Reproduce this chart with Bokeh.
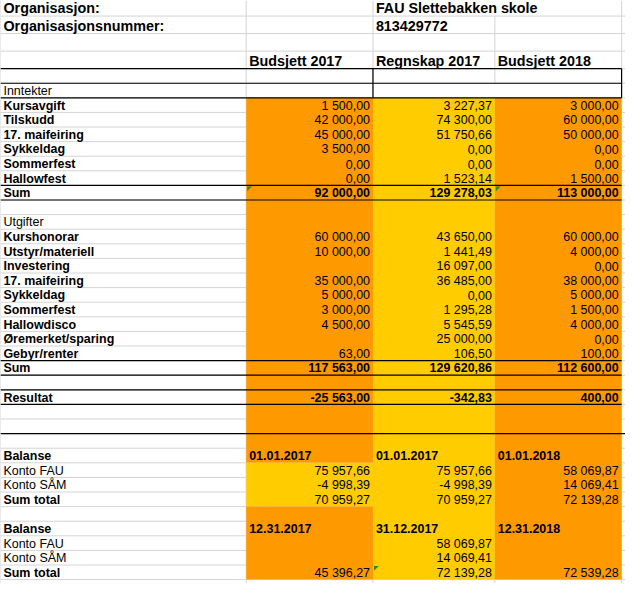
from bokeh.plotting import figure
from bokeh.models import ColumnDataSource, Range1d
from bokeh.core.properties import value
from bokeh.embed import file_html
from bokeh.resources import INLINE

# ---------------- data ----------------
org_label = "Organisasjon:"
orgnr_label = "Organisasjonsnummer:"
org_name = "FAU Slettebakken skole"
org_number = "813429772"
column_headers = ["Budsjett 2017", "Regnskap 2017", "Budsjett 2018"]

income_title = "Inntekter"
income_labels = ["Kursavgift", "Tilskudd", "17. maifeiring", "Sykkeldag", "Sommerfest", "Hallowfest"]
income_budget_2017 = [1500.00, 42000.00, 45000.00, 3500.00, 0.00, 0.00]
income_account_2017 = [3227.37, 74300.00, 51750.66, 0.00, 0.00, 1523.14]
income_budget_2018 = [3000.00, 60000.00, 50000.00, 0.00, 0.00, 1500.00]
income_sums = [92000.00, 129278.03, 113000.00]

expense_title = "Utgifter"
expense_labels = ["Kurshonorar", "Utstyr/materiell", "Investering", "17. maifeiring", "Sykkeldag",
                  "Sommerfest", "Hallowdisco", "Øremerket/sparing", "Gebyr/renter"]
expense_budget_2017 = [60000.00, 10000.00, None, 35000.00, 5000.00, 3000.00, 4500.00, None, 63.00]
expense_account_2017 = [43650.00, 1441.49, 16097.00, 36485.00, 0.00, 1295.28, 5545.59, 25000.00, 106.50]
expense_budget_2018 = [60000.00, 4000.00, 0.00, 38000.00, 5000.00, 1500.00, 4000.00, 0.00, 100.00]
expense_sums = [117563.00, 129620.86, 112600.00]

sum_label = "Sum"
result_label = "Resultat"
results = [-25563.00, -342.83, 400.00]

balance_label = "Balanse"
balance_rows = ["Konto FAU", "Konto SÅM", "Sum total"]
balance1_dates = ["01.01.2017", "01.01.2017", "01.01.2018"]
balance1_fau = [75957.66, 75957.66, 58069.87]
balance1_sam = [-4998.39, -4998.39, 14069.41]
balance1_total = [70959.27, 70959.27, 72139.28]
balance2_dates = ["12.31.2017", "31.12.2017", "12.31.2018"]
balance2_fau = [None, 58069.87, None]
balance2_sam = [None, 14069.41, None]
balance2_total = [45396.27, 72139.28, 72539.28]

# ---------------- layout ----------------
REF_W, REF_H = 641, 599
FIG_W, FIG_H = 625, 583
K = FIG_W / REF_W
COL_EDGES = [0, 252, 382, 507, 637, REF_W]
HEADER_EDGES = [0, 16, 34, 52, 70]
ROW0, ROWH, NROWS = 70, 15, 35
ORANGE, YELLOW = "#FF9900", "#FFCC00"
GRID, GREEN = "#D4D4D4", "#2E8B2E"
FONT = value("Liberation Sans")
SMALL = f"{12.8 * K:.2f}px"
BIG = f"{14.7 * K:.2f}px"


def fmt(v):
    if v is None:
        return ""
    s = f"{abs(v):,.2f}".replace(",", " ").replace(".", ",")
    return ("-" if v < 0 else "") + s


def rtop(r):
    return ROW0 + ROWH * r


def rmid(r):
    return rtop(r) + ROWH / 2 + 0.5


p = figure(width=FIG_W, height=FIG_H, x_range=Range1d(0, REF_W), y_range=Range1d(REF_H, 0),
           output_backend="svg", toolbar_location=None, min_border=0,
           x_axis_location=None, y_axis_location=None)
p.grid.visible = False
p.outline_line_color = None
p.background_fill_color = "white"
p.border_fill_color = "white"

# ---------------- gridlines ----------------
row_edges = HEADER_EDGES[1:4] + [rtop(r) for r in range(NROWS + 1)]
gx0, gy0, gx1, gy1 = [], [], [], []
for y in row_edges:
    gx0.append(0); gx1.append(REF_W); gy0.append(y); gy1.append(y)
vert = [(0, 0, REF_H), (COL_EDGES[1], 0, REF_H), (COL_EDGES[2], 0, REF_H),
        (COL_EDGES[3], HEADER_EDGES[1], rtop(1)), (COL_EDGES[3], rtop(2), REF_H),
        (COL_EDGES[4], 0, REF_H)]
for x, a, b in vert:
    gx0.append(x); gx1.append(x); gy0.append(a); gy1.append(b)
p.segment(gx0, gy0, gx1, gy1, line_color=GRID, line_width=1)

# ---------------- fills ----------------
fl, fr, ft, fb, fc = [], [], [], [], []
first, last = 2, NROWS
bal1_first, bal1_last = 27, 30
for ci in range(3):
    left, right = COL_EDGES[ci + 1], COL_EDGES[ci + 2]
    if ci == 1:
        segs = [(first, last, YELLOW)]
    elif ci == 0:
        segs = [(first, bal1_first, ORANGE), (bal1_first, bal1_last, YELLOW), (bal1_last, last, ORANGE)]
    else:
        segs = [(first, last, ORANGE)]
    for a, b, c in segs:
        fl.append(left); fr.append(right); ft.append(rtop(a)); fb.append(rtop(b)); fc.append(c)
p.quad(left=fl, right=fr, top=ft, bottom=fb, fill_color=fc, line_color=None)

# ---------------- black borders ----------------
bx0, by0, bx1, by1 = [], [], [], []
for r in [0, 1, 2, 8, 9, 20, 21, 22, 23]:
    bx0.append(0); bx1.append(COL_EDGES[4]); by0.append(rtop(r)); by1.append(rtop(r))
bx0.append(0); bx1.append(REF_W); by0.append(rtop(25)); by1.append(rtop(25))
for x in [COL_EDGES[2], COL_EDGES[4]]:
    bx0.append(x); bx1.append(x); by0.append(rtop(0)); by1.append(rtop(2))
p.segment(bx0, by0, bx1, by1, line_color="black", line_width=1.2)

# ---------------- error indicators ----------------
tri_cells = [(0, 8), (2, 8), (1, 34)]
txs, tys = [], []
for ci, r in tri_cells:
    x0 = COL_EDGES[ci + 1] + 1
    y0 = rtop(r) + 1
    txs.append([x0, x0 + 5, x0]); tys.append([y0, y0, y0 + 5])
p.patches(txs, tys, fill_color=GREEN, line_color=None)

# ---------------- texts ----------------
groups = {}


def add(x, y, t, align="left", bold=False, size=SMALL):
    key = (align, bold, size)
    g = groups.setdefault(key, {"x": [], "y": [], "t": []})
    g["x"].append(x); g["y"].append(y); g["t"].append(t)


def lx(ci):
    return COL_EDGES[ci + 1] + 3


def rx(ci):
    return COL_EDGES[ci + 2] - 3


# header
add(3, HEADER_EDGES[1] - 8, org_label, bold=True, size=BIG)
add(3, HEADER_EDGES[2] - 8, orgnr_label, bold=True, size=BIG)
add(lx(1), HEADER_EDGES[1] - 8, org_name, bold=True, size=BIG)
add(lx(1), HEADER_EDGES[2] - 8, org_number, bold=True, size=BIG)
for ci, h in enumerate(column_headers):
    add(lx(ci), HEADER_EDGES[4] - 8, h, bold=True, size=BIG)

# income
add(3, rmid(1), income_title)
inc_cols = [income_budget_2017, income_account_2017, income_budget_2018]
for i, lab in enumerate(income_labels):
    r = 2 + i
    add(3, rmid(r), lab, bold=True)
    for ci in range(3):
        add(rx(ci), rmid(r), fmt(inc_cols[ci][i]), align="right")
add(3, rmid(8), sum_label, bold=True)
for ci in range(3):
    add(rx(ci), rmid(8), fmt(income_sums[ci]), align="right", bold=True)

# expenses
add(3, rmid(10), expense_title)
exp_cols = [expense_budget_2017, expense_account_2017, expense_budget_2018]
for i, lab in enumerate(expense_labels):
    r = 11 + i
    add(3, rmid(r), lab, bold=True)
    for ci in range(3):
        add(rx(ci), rmid(r), fmt(exp_cols[ci][i]), align="right")
add(3, rmid(20), sum_label, bold=True)
for ci in range(3):
    add(rx(ci), rmid(20), fmt(expense_sums[ci]), align="right", bold=True)

# result
add(3, rmid(22), result_label, bold=True)
for ci in range(3):
    add(rx(ci), rmid(22), fmt(results[ci]), align="right", bold=True)

# balances
for start, dates, fau, sam, tot in [(26, balance1_dates, balance1_fau, balance1_sam, balance1_total),
                                    (31, balance2_dates, balance2_fau, balance2_sam, balance2_total)]:
    add(3, rmid(start), balance_label, bold=True)
    for ci in range(3):
        add(lx(ci), rmid(start), dates[ci], bold=True)
    for j, (lab, vals) in enumerate(zip(balance_rows, [fau, sam, tot])):
        r = start + 1 + j
        add(3, rmid(r), lab, bold=(j == 2))
        for ci in range(3):
            add(rx(ci), rmid(r), fmt(vals[ci]), align="right")

for (align, bold, size), g in groups.items():
    src = ColumnDataSource(dict(x=g["x"], y=g["y"], t=g["t"]))
    p.text(x="x", y="y", text="t", source=src, text_align=align, text_baseline="middle",
           text_font=FONT, text_font_size=size, text_color="#000000",
           text_font_style="bold" if bold else "normal")

open("out.html", "w").write(file_html(p, INLINE))
